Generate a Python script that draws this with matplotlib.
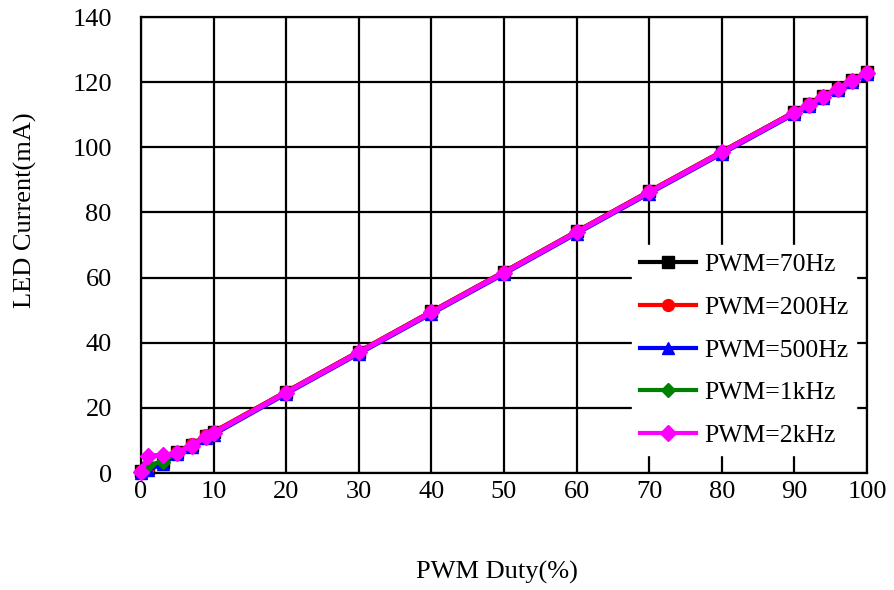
import matplotlib
matplotlib.use("Agg")
import matplotlib.pyplot as plt

plt.rcParams['font.family'] = ['Liberation Serif', 'DejaVu Serif']

duty = [0, 1, 3, 5, 7, 9, 10, 20, 30, 40, 50, 60, 70, 80, 90, 92, 94, 96, 98, 100]

i_70hz = [0.6, 1.5, 3.5, 6.5, 8.7, 11.5, 12.6, 25.0, 37.3, 49.6, 61.8, 74.2, 86.5, 98.7, 110.9, 113.4, 115.8, 118.3, 120.7, 123.2]
i_200hz = [0.6, 1.6, 3.6, 6.6, 8.8, 11.6, 12.7, 25.0, 37.3, 49.6, 61.8, 74.2, 86.5, 98.7, 110.9, 113.4, 115.8, 118.3, 120.7, 123.2]
i_500hz = [0.0, 0.9, 2.9, 5.8, 7.9, 10.7, 11.8, 24.3, 36.6, 48.9, 61.1, 73.5, 85.8, 98.0, 110.2, 112.7, 115.1, 117.6, 120.0, 122.5]
i_1khz = [0.3, 2.5, 3.5, 6.2, 8.4, 11.2, 12.3, 24.7, 37.0, 49.3, 61.5, 73.9, 86.2, 98.4, 110.6, 113.1, 115.5, 118.0, 120.4, 122.9]
i_2khz = [0.3, 5.3, 5.4, 6.2, 8.4, 11.2, 12.3, 24.7, 37.0, 49.3, 61.5, 73.9, 86.2, 98.4, 110.6, 113.1, 115.5, 118.0, 120.4, 122.9]

labels = ['PWM=70Hz', 'PWM=200Hz', 'PWM=500Hz', 'PWM=1kHz', 'PWM=2kHz']
series = [i_70hz, i_200hz, i_500hz, i_1khz, i_2khz]
colors = ['#000000', '#FF0000', '#0000FF', '#008000', '#FF00FF']
markers = ['s', 'o', '^', 'D', 'D']
msizes = [8, 8.5, 8.5, 7.5, 8]
lwidths = [3.0, 3.0, 3.0, 3.0, 3.6]

xticks = list(range(0, 101, 10))
yticks = list(range(0, 141, 20))

fig = plt.figure(figsize=(8.94, 5.9), dpi=100)
ax = fig.add_axes([141/894, 1 - 473/590, (867 - 141)/894, (473 - 17)/590])

for y, lab, c, m, ms, lw in zip(series, labels, colors, markers, msizes, lwidths):
    ax.plot(duty, y, color=c, marker=m, markersize=ms, linewidth=lw,
            label=lab, clip_on=False, zorder=3)

ax.set_xlim(0, 100)
ax.set_ylim(0, 140)
ax.set_xticks(xticks)
ax.set_yticks(yticks)
ax.grid(True, color='black', linewidth=1.6)
ax.set_axisbelow(True)
for sp in ax.spines.values():
    sp.set_linewidth(1.6)
    sp.set_color('black')
ax.tick_params(axis='both', length=0, labelsize=19)
ax.tick_params(axis='y', pad=21)
ax.tick_params(axis='x', pad=6)

leg = ax.legend(loc='lower right', bbox_to_anchor=(0.985, 0.04), frameon=True,
                fontsize=18.5, handlelength=2.2, handletextpad=0.3,
                labelspacing=0.77, borderpad=0.3, borderaxespad=0)
for h in leg.legend_handles:
    h.set_linewidth(3.0)
leg.get_frame().set_edgecolor('white')
leg.get_frame().set_facecolor('white')
leg.get_frame().set_alpha(1)
leg.set_zorder(5)

fig.text(25/894, 1 - 210/590, 'LED Current(mA)', rotation=90, fontsize=19,
         ha='center', va='center')
fig.text(497/894, 1 - 572/590, 'PWM Duty(%)', fontsize=19, ha='center', va='center')

fig.savefig('out.png', dpi=100)
